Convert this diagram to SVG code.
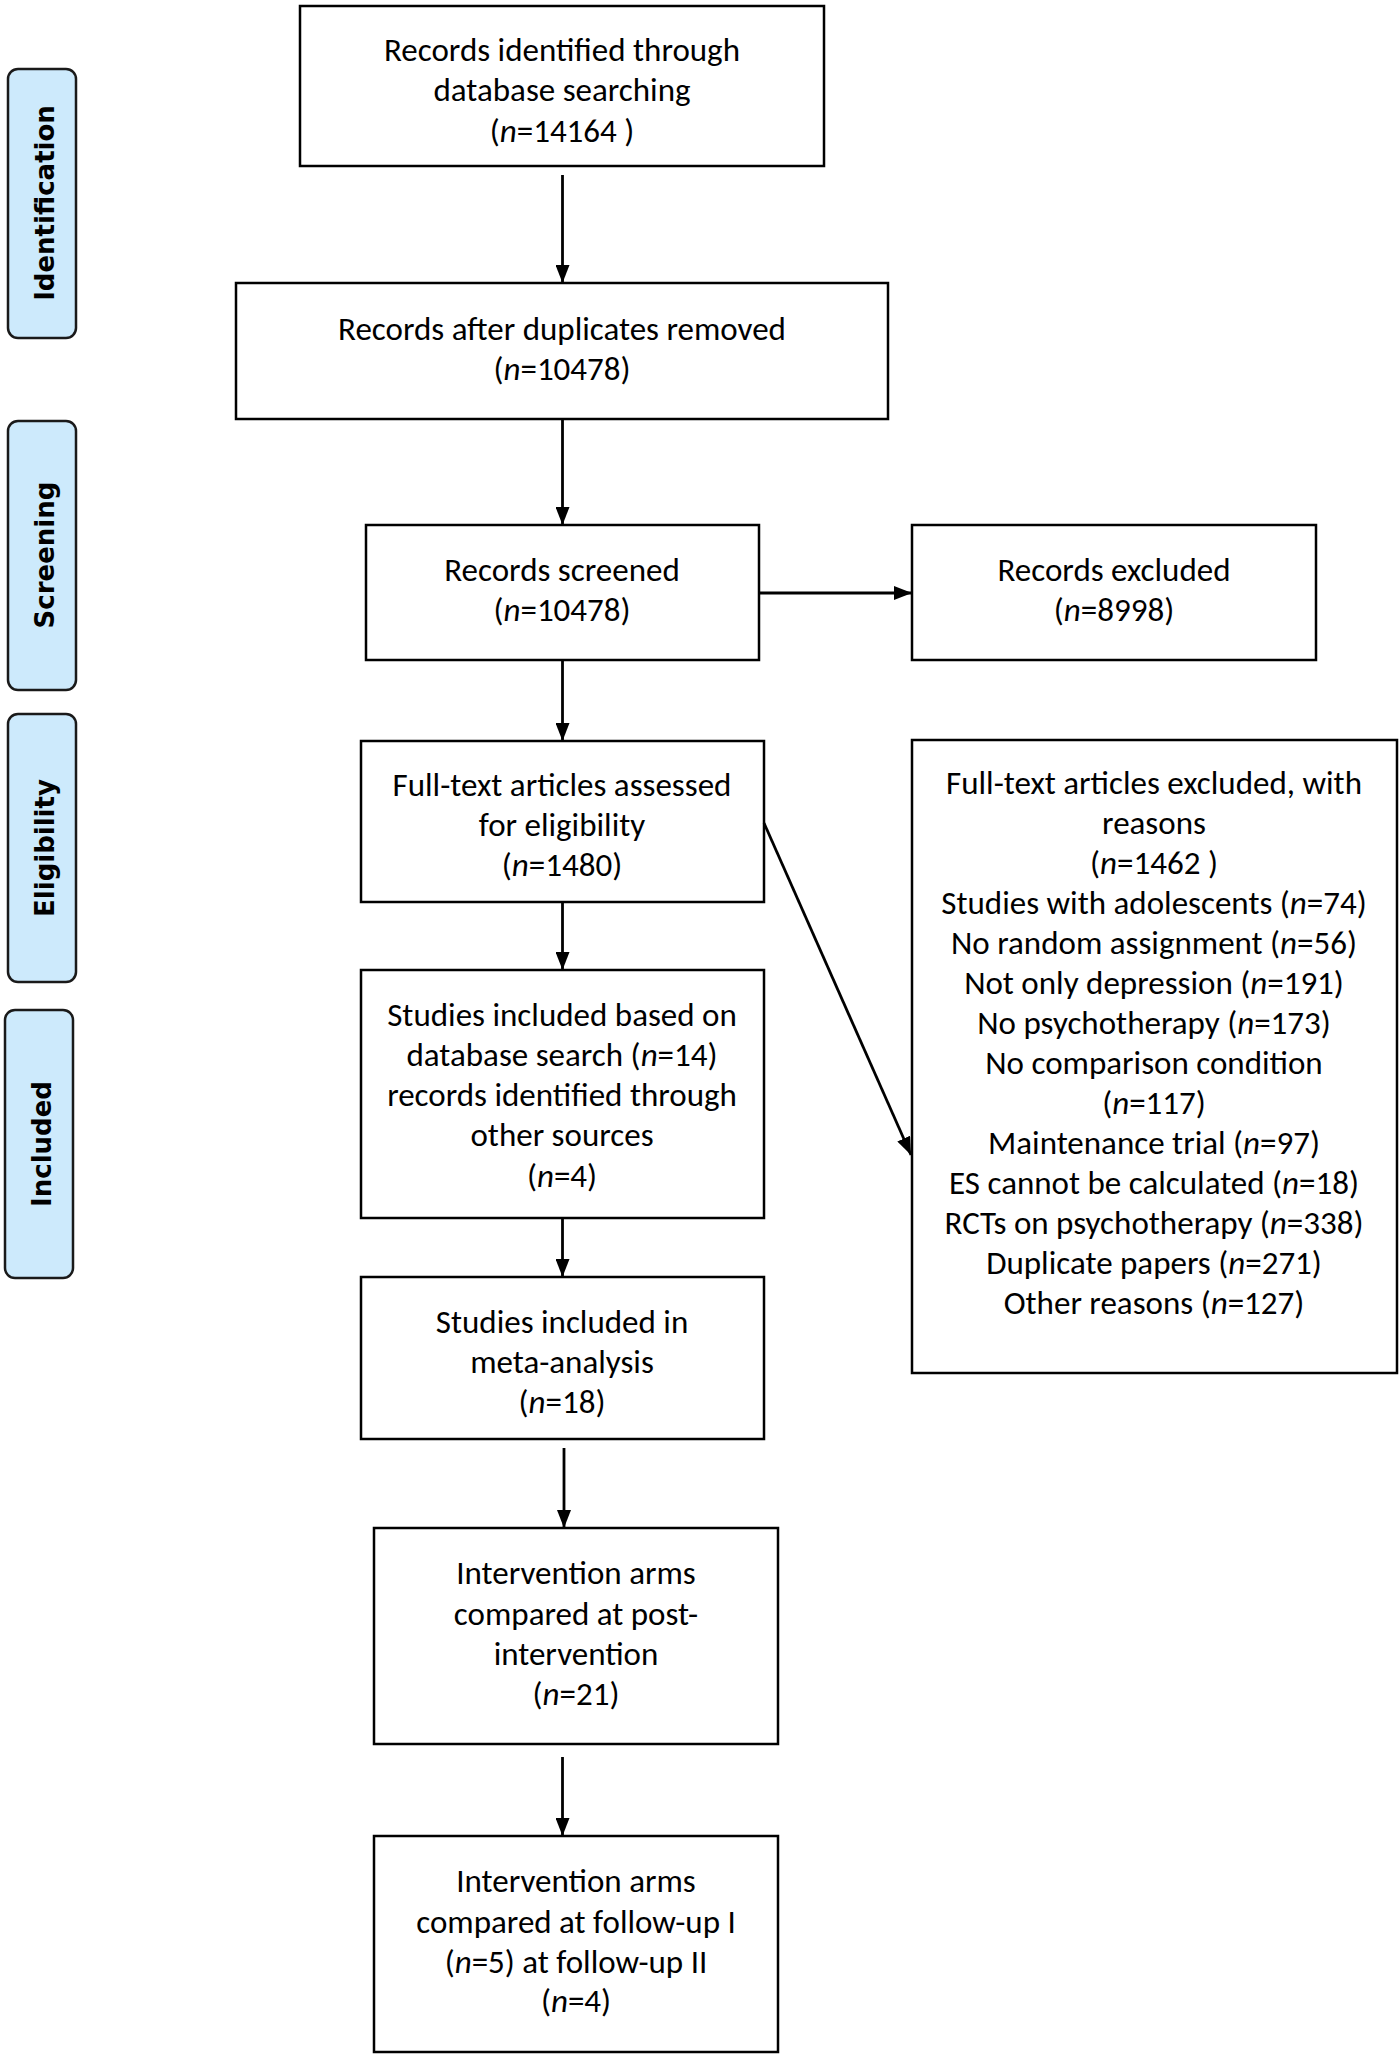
<svg xmlns="http://www.w3.org/2000/svg" width="1400" height="2058" viewBox="0 0 1400 2058">
<style>
.box{fill:#fff;stroke:#000;stroke-width:2.5}
.side{fill:#cdeafc;stroke:#1a1a1a;stroke-width:2.5}
.t{font-family:Carlito,Lato,"Liberation Sans",sans-serif;font-size:33px;fill:#000;text-anchor:middle}
.s{font-family:"DejaVu Sans",Verdana,sans-serif;font-weight:bold;font-size:26px;fill:#000;text-anchor:middle}
.i{font-style:italic}
.c{stroke:#000;stroke-width:2.8;fill:none}
</style>
<defs>
<marker id="ah" viewBox="0 0 18 14" refX="18" refY="7" markerWidth="18" markerHeight="14" markerUnits="userSpaceOnUse" orient="auto">
<path d="M0,0 L18,7 L0,14 z" fill="#000"/>
</marker>
</defs>
<rect width="1400" height="2058" fill="#fff"/>
<g id="side-identification"><rect class="side" x="8" y="69" width="68" height="269" rx="10"/><text class="s" transform="translate(54,203) rotate(-90)">Identification</text></g>
<g id="side-screening"><rect class="side" x="8" y="421" width="68" height="269" rx="10"/><text class="s" transform="translate(54,555) rotate(-90)">Screening</text></g>
<g id="side-eligibility"><rect class="side" x="8" y="714" width="68" height="268" rx="10"/><text class="s" transform="translate(54,848) rotate(-90)">Eligibility</text></g>
<g id="side-included"><rect class="side" x="5" y="1010" width="68" height="268" rx="10"/><text class="s" transform="translate(51,1144) rotate(-90)">Included</text></g>

<g id="n1"><rect class="box" x="300" y="6" width="524" height="160"/>
<text class="t" x="562" y="61">Records identified through</text>
<text class="t" x="562" y="101">database searching</text>
<text class="t" x="562" y="142">(<tspan class="i">n</tspan>=14164 )</text></g>

<g id="n2"><rect class="box" x="236" y="283" width="652" height="136"/>
<text class="t" x="562" y="340">Records after duplicates removed</text>
<text class="t" x="562" y="380">(<tspan class="i">n</tspan>=10478)</text></g>

<g id="n3"><rect class="box" x="366" y="525" width="393" height="135"/>
<text class="t" x="562" y="581">Records screened</text>
<text class="t" x="562" y="621">(<tspan class="i">n</tspan>=10478)</text></g>

<g id="n4"><rect class="box" x="912" y="525" width="404" height="135"/>
<text class="t" x="1114" y="581">Records excluded</text>
<text class="t" x="1114" y="621">(<tspan class="i">n</tspan>=8998)</text></g>

<g id="n5"><rect class="box" x="361" y="741" width="403" height="161"/>
<text class="t" x="562" y="796">Full-text articles assessed</text>
<text class="t" x="562" y="836">for eligibility</text>
<text class="t" x="562" y="876">(<tspan class="i">n</tspan>=1480)</text></g>

<g id="n6"><rect class="box" x="912" y="740" width="485" height="633"/>
<text class="t" x="1154" y="794">Full-text articles excluded, with</text>
<text class="t" x="1154" y="834">reasons</text>
<text class="t" x="1154" y="874">(<tspan class="i">n</tspan>=1462 )</text>
<text class="t" x="1154" y="914">Studies with adolescents (<tspan class="i">n</tspan>=74)</text>
<text class="t" x="1154" y="954">No random assignment (<tspan class="i">n</tspan>=56)</text>
<text class="t" x="1154" y="994">Not only depression (<tspan class="i">n</tspan>=191)</text>
<text class="t" x="1154" y="1034">No psychotherapy (<tspan class="i">n</tspan>=173)</text>
<text class="t" x="1154" y="1074">No comparison condition</text>
<text class="t" x="1154" y="1114">(<tspan class="i">n</tspan>=117)</text>
<text class="t" x="1154" y="1154">Maintenance trial (<tspan class="i">n</tspan>=97)</text>
<text class="t" x="1154" y="1194">ES cannot be calculated (<tspan class="i">n</tspan>=18)</text>
<text class="t" x="1154" y="1234">RCTs on psychotherapy (<tspan class="i">n</tspan>=338)</text>
<text class="t" x="1154" y="1274">Duplicate papers (<tspan class="i">n</tspan>=271)</text>
<text class="t" x="1154" y="1314">Other reasons (<tspan class="i">n</tspan>=127)</text></g>

<g id="n7"><rect class="box" x="361" y="970" width="403" height="248"/>
<text class="t" x="562" y="1026">Studies included based on</text>
<text class="t" x="562" y="1066">database search (<tspan class="i">n</tspan>=14)</text>
<text class="t" x="562" y="1106">records identified through</text>
<text class="t" x="562" y="1146">other sources</text>
<text class="t" x="562" y="1187">(<tspan class="i">n</tspan>=4)</text></g>

<g id="n8"><rect class="box" x="361" y="1277" width="403" height="162"/>
<text class="t" x="562" y="1333">Studies included in</text>
<text class="t" x="562" y="1373">meta-analysis</text>
<text class="t" x="562" y="1413">(<tspan class="i">n</tspan>=18)</text></g>

<g id="n9"><rect class="box" x="374" y="1528" width="404" height="216"/>
<text class="t" x="576" y="1584">Intervention arms</text>
<text class="t" x="576" y="1625">compared at post-</text>
<text class="t" x="576" y="1665">intervention</text>
<text class="t" x="576" y="1705">(<tspan class="i">n</tspan>=21)</text></g>

<g id="n10"><rect class="box" x="374" y="1836" width="404" height="216"/>
<text class="t" x="576" y="1892">Intervention arms</text>
<text class="t" x="576" y="1933">compared at follow-up I</text>
<text class="t" x="576" y="1973">(<tspan class="i">n</tspan>=5) at follow-up II</text>
<text class="t" x="576" y="2012">(<tspan class="i">n</tspan>=4)</text></g>

<g id="connectors">
<line class="c" x1="562.5" y1="175" x2="562.5" y2="283" marker-end="url(#ah)"/>
<line class="c" x1="562.5" y1="419" x2="562.5" y2="525" marker-end="url(#ah)"/>
<line class="c" x1="759" y1="593" x2="912" y2="593" marker-end="url(#ah)"/>
<line class="c" x1="562.5" y1="660" x2="562.5" y2="741" marker-end="url(#ah)"/>
<line class="c" x1="764" y1="823" x2="911" y2="1155" marker-end="url(#ah)"/>
<line class="c" x1="562.5" y1="902" x2="562.5" y2="970" marker-end="url(#ah)"/>
<line class="c" x1="562.5" y1="1218" x2="562.5" y2="1277" marker-end="url(#ah)"/>
<line class="c" x1="564" y1="1448" x2="564" y2="1528" marker-end="url(#ah)"/>
<line class="c" x1="562.5" y1="1757" x2="562.5" y2="1836" marker-end="url(#ah)"/>
</g>
</svg>
